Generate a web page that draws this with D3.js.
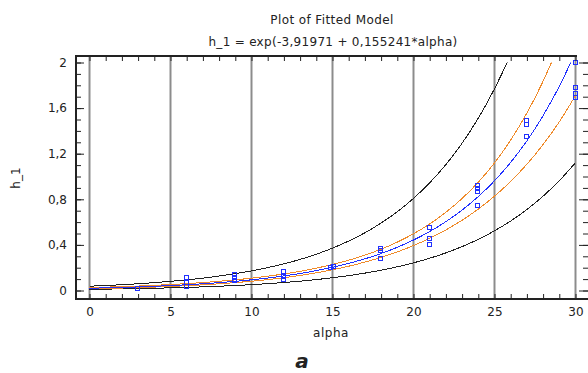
<!DOCTYPE html>
<html>
<head>
<meta charset="utf-8">
<script src="https://cdn.jsdelivr.net/npm/d3@7"></script>
<style>
  body { margin: 0; background: #fff; }
  text { font-family: "DejaVu Sans", Verdana, sans-serif; fill: #222; }
</style>
</head>
<body>
<div id="chart"></div>
<script>
// values
const alpha = [0, 1, 2, 3, 4, 5, 6, 7, 8, 9, 10, 11, 12, 13, 14, 15, 16, 17, 18, 19, 20, 21, 22, 23, 24, 25, 26, 27, 28, 29, 30];
const fitted = [0.0199, 0.0232, 0.0271, 0.0316, 0.0369, 0.0431, 0.0504, 0.0588, 0.0687, 0.0803, 0.0937, 0.1095, 0.1279, 0.1494, 0.1744, 0.2037, 0.2380, 0.2779, 0.3246, 0.3791, 0.4428, 0.5172, 0.6040, 0.7055, 0.8240, 0.9624, 1.1240, 1.3128, 1.5333, 1.7908, 2.0915];
const upperConf = [0.0254, 0.0293, 0.0339, 0.0391, 0.0452, 0.0522, 0.0603, 0.0698, 0.0807, 0.0934, 0.1081, 0.1253, 0.1453, 0.1686, 0.1960, 0.2280, 0.2657, 0.3101, 0.3625, 0.4243, 0.4974, 0.5839, 0.6862, 0.8071, 0.9501, 1.1193, 1.3196, 1.5562, 1.8361, 2.1670, 2.5580];
const lowerConf = [0.0155, 0.0183, 0.0216, 0.0256, 0.0302, 0.0356, 0.0421, 0.0496, 0.0585, 0.0690, 0.0813, 0.0957, 0.1126, 0.1323, 0.1553, 0.1820, 0.2131, 0.2491, 0.2907, 0.3387, 0.3942, 0.4581, 0.5317, 0.6167, 0.7146, 0.8274, 0.9574, 1.1075, 1.2804, 1.4799, 1.7099];
const upperPred = [0.0376, 0.0438, 0.0509, 0.0592, 0.0689, 0.0802, 0.0934, 0.1087, 0.1267, 0.1476, 0.1720, 0.2006, 0.2339, 0.2728, 0.3183, 0.3715, 0.4337, 0.5065, 0.5916, 0.6912, 0.8080, 0.9446, 1.1046, 1.2922, 1.5120, 1.7696, 2.0716, 2.4258, 2.8414, 3.3292, 3.9017];
const lowerPred = [0.0105, 0.0123, 0.0144, 0.0169, 0.0198, 0.0232, 0.0272, 0.0318, 0.0373, 0.0437, 0.0511, 0.0598, 0.0699, 0.0818, 0.0956, 0.1118, 0.1306, 0.1525, 0.1781, 0.2079, 0.2427, 0.2832, 0.3303, 0.3852, 0.4490, 0.5234, 0.6098, 0.7104, 0.8274, 0.9632, 1.1212];

const obsAlpha = [3, 6, 6, 6, 9, 9, 9, 12, 12, 12, 14.9, 15.1, 18, 18, 18, 21, 21, 21, 24, 24, 24, 24, 27, 27, 27, 30, 30, 30, 30];
const obsH = [0.01, 0.11, 0.07, 0.035, 0.14, 0.11, 0.085, 0.16, 0.12, 0.09, 0.20, 0.21, 0.36, 0.35, 0.28, 0.55, 0.45, 0.40, 0.92, 0.89, 0.86, 0.74, 1.49, 1.45, 1.35, 2.00, 1.78, 1.72, 1.69];

const xTicks = [0, 5, 10, 15, 20, 25, 30];
const xTickLabels = ["0", "5", "10", "15", "20", "25", "30"];
const yTicks = [0, 0.4, 0.8, 1.2, 1.6, 2];
const yTickLabels = ["0", "0,4", "0,8", "1,2", "1,6", "2"];
const yMinor = [0, 0.1, 0.2, 0.3, 0.4, 0.5, 0.6, 0.7, 0.8, 0.9, 1.0, 1.1, 1.2, 1.3, 1.4, 1.5, 1.6, 1.7, 1.8, 1.9, 2.0];

const width = 588;
const height = 373;
const plotLeft = 76, plotRight = 588, plotTop = 56, plotBottom = 299;

const x = d3.scaleLinear().domain([0, 30]).range([89.5, 575.5]);
const y = d3.scaleLinear().domain([0, 2]).range([290.5, 62.5]);

const svg = d3.select("#chart")
    .append("svg")
    .attr("width", width)
    .attr("height", height);

// titles
svg.append("text")
    .attr("x", 332).attr("y", 24)
    .attr("text-anchor", "middle")
    .style("font-size", "12px")
    .style("letter-spacing", "0.4px")
    .text("Plot of Fitted Model");

svg.append("text")
    .attr("x", 333).attr("y", 46)
    .attr("text-anchor", "middle")
    .style("font-size", "12px")
    .style("letter-spacing", "0.3px")
    .text("h_1 = exp(-3,91971 + 0,155241*alpha)");

// vertical grid
svg.append("g")
    .selectAll("line")
    .data(xTicks)
    .enter()
    .append("line")
    .attr("x1", d => x(d)).attr("x2", d => x(d))
    .attr("y1", plotTop).attr("y2", plotBottom)
    .attr("stroke", "#8c8c8c")
    .attr("stroke-width", 2);

// curves
svg.append("clipPath")
    .attr("id", "clip")
    .append("rect")
    .attr("x", plotLeft).attr("y", y(2))
    .attr("width", plotRight - plotLeft).attr("height", plotBottom - y(2));

const line = d3.line()
    .x((d, i) => x(alpha[i]))
    .y(d => y(d))
    .curve(d3.curveMonotoneX);

const curves = [
    {values: upperPred, color: "#222"},
    {values: lowerPred, color: "#222"},
    {values: upperConf, color: "#ef8a2a"},
    {values: lowerConf, color: "#ef8a2a"},
    {values: fitted, color: "#2030ff"}
];

svg.append("g")
    .attr("clip-path", "url(#clip)")
    .selectAll("path")
    .data(curves)
    .enter()
    .append("path")
    .attr("d", d => line(d.values))
    .attr("fill", "none")
    .attr("stroke", d => d.color)
    .attr("stroke-width", 1)
    .style("shape-rendering", "crispEdges");

// observations
svg.append("g")
    .selectAll("rect")
    .data(obsH)
    .enter()
    .append("rect")
    .attr("x", (d, i) => Math.round(x(obsAlpha[i])) - 2.5)
    .attr("y", d => Math.round(y(d)) - 2.5)
    .attr("width", 4)
    .attr("height", 4)
    .attr("fill", "none")
    .attr("stroke", "#2030ff")
    .attr("stroke-width", 1);

// axes, ticks pointing inward
svg.append("g").attr("transform", `translate(0,${plotBottom})`)
    .call(d3.axisBottom(x).ticks(30).tickSize(-5).tickFormat(""));
svg.append("g").attr("transform", `translate(0,${plotTop})`)
    .call(d3.axisTop(x).ticks(30).tickSize(-5).tickFormat(""));

const xAxis = d3.axisBottom(x)
    .tickValues(xTicks)
    .tickSize(0)
    .tickPadding(8)
    .tickFormat((d, i) => xTickLabels[i]);
svg.append("g").attr("transform", `translate(0,${plotBottom})`).call(xAxis);

svg.append("g").attr("transform", `translate(${plotLeft},0)`)
    .call(d3.axisLeft(y).tickValues(yMinor).tickSize(-5).tickFormat(""));
svg.append("g").attr("transform", `translate(${plotLeft},0)`)
    .call(d3.axisLeft(y).tickValues(yTicks).tickSize(-8).tickPadding(9).tickFormat((d, i) => yTickLabels[i]));

svg.append("g").attr("transform", `translate(${plotRight},0)`)
    .call(d3.axisRight(y).tickValues(yMinor).tickSize(-5).tickFormat(""));
svg.append("g").attr("transform", `translate(${plotRight},0)`)
    .call(d3.axisRight(y).tickValues(yTicks).tickSize(-9).tickFormat(""));

svg.selectAll(".domain").remove();
svg.selectAll(".tick line").attr("stroke", "#222");
svg.selectAll(".tick text")
    .style("font-size", "12px")
    .style("font-family", "DejaVu Sans, Verdana, sans-serif")
    .attr("fill", "#222");

// frame
const frame = svg.append("g").attr("stroke", "#222").attr("stroke-width", 2);
frame.append("line").attr("x1", plotLeft).attr("x2", plotLeft).attr("y1", plotTop - 1).attr("y2", plotBottom + 1);
frame.append("line").attr("x1", plotLeft).attr("x2", 577).attr("y1", plotTop).attr("y2", plotTop);
frame.append("line").attr("x1", plotLeft).attr("x2", plotRight).attr("y1", plotBottom).attr("y2", plotBottom);

// axis titles
svg.append("text")
    .attr("x", 331).attr("y", 337)
    .attr("text-anchor", "middle")
    .style("font-size", "12px")
    .style("letter-spacing", "0.5px")
    .text("alpha");

svg.append("text")
    .attr("transform", "translate(20,178) rotate(-90)")
    .attr("text-anchor", "middle")
    .style("font-size", "12px")
    .text("h_1");

svg.append("text")
    .attr("x", 302).attr("y", 368)
    .attr("text-anchor", "middle")
    .style("font-size", "20px")
    .style("font-weight", "bold")
    .style("font-style", "italic")
    .text("a");
</script>
</body>
</html>
